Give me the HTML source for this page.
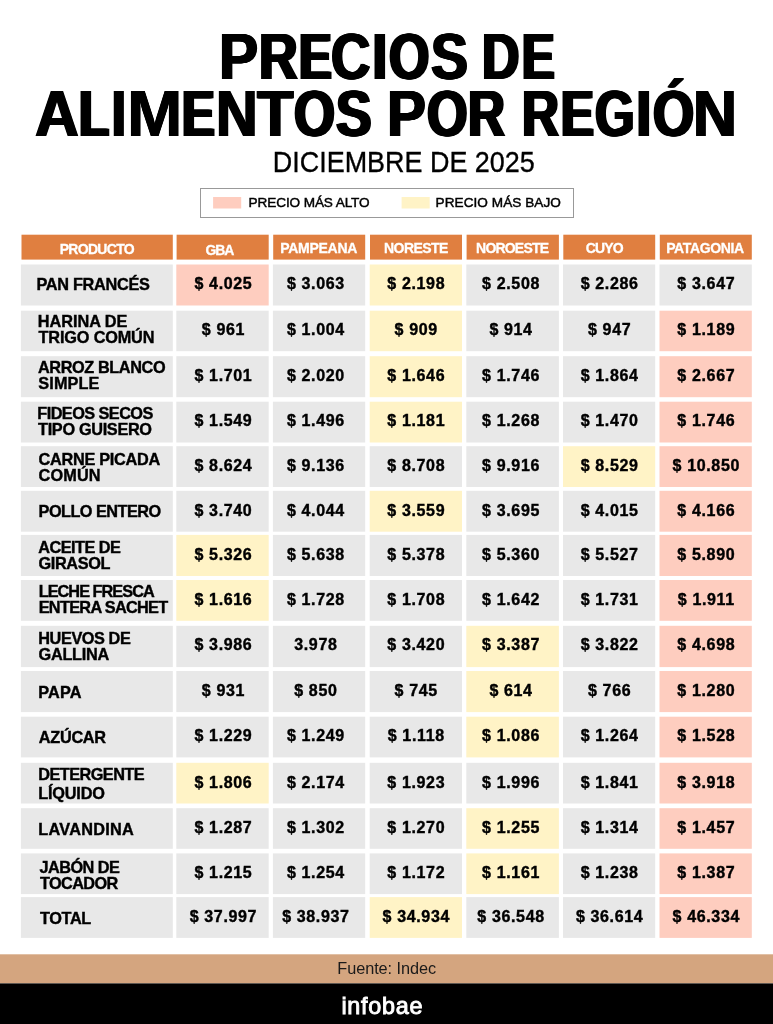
<!DOCTYPE html><html><head><meta charset="utf-8"><title>Precios</title><style>
*{margin:0;padding:0;box-sizing:border-box}
html,body{width:773px;height:1024px;background:#fff;overflow:hidden}
body{position:relative;font-family:"Liberation Sans",sans-serif;color:#000}
#w{position:absolute;left:0;top:0;width:773px;height:1024px;will-change:transform}
.tw{position:absolute;font-weight:bold;font-size:64.5px;line-height:64px;white-space:nowrap;transform-origin:0 50%}
.sub{position:absolute;left:0;width:773px;text-align:center;font-size:29.6px;line-height:30px;white-space:nowrap;transform:translateX(17.3px) scaleX(.91);-webkit-text-stroke:.35px #000}
.f{position:absolute;white-space:nowrap}
.bg{position:absolute;left:0;top:0}
.c{position:absolute;height:16px;line-height:16px;text-align:center;font-weight:bold;font-size:16px;white-space:nowrap;letter-spacing:.65px;-webkit-text-stroke:.4px #000}
</style></head><body><div id="w">
<svg class="bg" width="773" height="1024" viewBox="0 0 773 1024" shape-rendering="geometricPrecision">
<rect x="200.5" y="188.5" width="373" height="29" fill="none" stroke="#999" stroke-width="1"/>
<rect x="213.10" y="197.00" width="28.10" height="11.50" fill="#fecdbf"/>
<rect x="401.60" y="197.00" width="28.10" height="11.50" fill="#fff3c6"/>
<rect x="21.50" y="234.70" width="151.30" height="24.90" fill="#e07f40"/>
<rect x="176.60" y="234.70" width="92.10" height="24.90" fill="#e07f40"/>
<rect x="273.20" y="234.70" width="92.00" height="24.90" fill="#e07f40"/>
<rect x="370.00" y="234.70" width="92.00" height="24.90" fill="#e07f40"/>
<rect x="466.60" y="234.70" width="92.30" height="24.90" fill="#e07f40"/>
<rect x="563.30" y="234.70" width="91.90" height="24.90" fill="#e07f40"/>
<rect x="659.80" y="234.70" width="92.00" height="24.90" fill="#e07f40"/>
<rect x="20.90" y="264.50" width="151.90" height="41.00" fill="#e8e8e8"/>
<rect x="176.30" y="264.50" width="92.40" height="41.00" fill="#fecdbf"/>
<rect x="272.90" y="264.50" width="92.30" height="41.00" fill="#e8e8e8"/>
<rect x="369.70" y="264.50" width="92.30" height="41.00" fill="#fff3c6"/>
<rect x="466.30" y="264.50" width="92.60" height="41.00" fill="#e8e8e8"/>
<rect x="563.00" y="264.50" width="92.20" height="41.00" fill="#e8e8e8"/>
<rect x="659.50" y="264.50" width="92.30" height="41.00" fill="#e8e8e8"/>
<rect x="20.90" y="310.70" width="151.90" height="40.50" fill="#e8e8e8"/>
<rect x="176.30" y="310.70" width="92.40" height="40.50" fill="#e8e8e8"/>
<rect x="272.90" y="310.70" width="92.30" height="40.50" fill="#e8e8e8"/>
<rect x="369.70" y="310.70" width="92.30" height="40.50" fill="#fff3c6"/>
<rect x="466.30" y="310.70" width="92.60" height="40.50" fill="#e8e8e8"/>
<rect x="563.00" y="310.70" width="92.20" height="40.50" fill="#e8e8e8"/>
<rect x="659.50" y="310.70" width="92.30" height="40.50" fill="#fecdbf"/>
<rect x="20.90" y="356.20" width="151.90" height="41.00" fill="#e8e8e8"/>
<rect x="176.30" y="356.20" width="92.40" height="41.00" fill="#e8e8e8"/>
<rect x="272.90" y="356.20" width="92.30" height="41.00" fill="#e8e8e8"/>
<rect x="369.70" y="356.20" width="92.30" height="41.00" fill="#fff3c6"/>
<rect x="466.30" y="356.20" width="92.60" height="41.00" fill="#e8e8e8"/>
<rect x="563.00" y="356.20" width="92.20" height="41.00" fill="#e8e8e8"/>
<rect x="659.50" y="356.20" width="92.30" height="41.00" fill="#fecdbf"/>
<rect x="20.90" y="401.70" width="151.90" height="40.80" fill="#e8e8e8"/>
<rect x="176.30" y="401.70" width="92.40" height="40.80" fill="#e8e8e8"/>
<rect x="272.90" y="401.70" width="92.30" height="40.80" fill="#e8e8e8"/>
<rect x="369.70" y="401.70" width="92.30" height="40.80" fill="#fff3c6"/>
<rect x="466.30" y="401.70" width="92.60" height="40.80" fill="#e8e8e8"/>
<rect x="563.00" y="401.70" width="92.20" height="40.80" fill="#e8e8e8"/>
<rect x="659.50" y="401.70" width="92.30" height="40.80" fill="#fecdbf"/>
<rect x="20.90" y="446.20" width="151.90" height="40.80" fill="#e8e8e8"/>
<rect x="176.30" y="446.20" width="92.40" height="40.80" fill="#e8e8e8"/>
<rect x="272.90" y="446.20" width="92.30" height="40.80" fill="#e8e8e8"/>
<rect x="369.70" y="446.20" width="92.30" height="40.80" fill="#e8e8e8"/>
<rect x="466.30" y="446.20" width="92.60" height="40.80" fill="#e8e8e8"/>
<rect x="563.00" y="446.20" width="92.20" height="40.80" fill="#fff3c6"/>
<rect x="659.50" y="446.20" width="92.30" height="40.80" fill="#fecdbf"/>
<rect x="20.90" y="490.80" width="151.90" height="40.90" fill="#e8e8e8"/>
<rect x="176.30" y="490.80" width="92.40" height="40.90" fill="#e8e8e8"/>
<rect x="272.90" y="490.80" width="92.30" height="40.90" fill="#e8e8e8"/>
<rect x="369.70" y="490.80" width="92.30" height="40.90" fill="#fff3c6"/>
<rect x="466.30" y="490.80" width="92.60" height="40.90" fill="#e8e8e8"/>
<rect x="563.00" y="490.80" width="92.20" height="40.90" fill="#e8e8e8"/>
<rect x="659.50" y="490.80" width="92.30" height="40.90" fill="#fecdbf"/>
<rect x="20.90" y="534.90" width="151.90" height="41.10" fill="#e8e8e8"/>
<rect x="176.30" y="534.90" width="92.40" height="41.10" fill="#fff3c6"/>
<rect x="272.90" y="534.90" width="92.30" height="41.10" fill="#e8e8e8"/>
<rect x="369.70" y="534.90" width="92.30" height="41.10" fill="#e8e8e8"/>
<rect x="466.30" y="534.90" width="92.60" height="41.10" fill="#e8e8e8"/>
<rect x="563.00" y="534.90" width="92.20" height="41.10" fill="#e8e8e8"/>
<rect x="659.50" y="534.90" width="92.30" height="41.10" fill="#fecdbf"/>
<rect x="20.90" y="580.00" width="151.90" height="40.80" fill="#e8e8e8"/>
<rect x="176.30" y="580.00" width="92.40" height="40.80" fill="#fff3c6"/>
<rect x="272.90" y="580.00" width="92.30" height="40.80" fill="#e8e8e8"/>
<rect x="369.70" y="580.00" width="92.30" height="40.80" fill="#e8e8e8"/>
<rect x="466.30" y="580.00" width="92.60" height="40.80" fill="#e8e8e8"/>
<rect x="563.00" y="580.00" width="92.20" height="40.80" fill="#e8e8e8"/>
<rect x="659.50" y="580.00" width="92.30" height="40.80" fill="#fecdbf"/>
<rect x="20.90" y="625.80" width="151.90" height="41.30" fill="#e8e8e8"/>
<rect x="176.30" y="625.80" width="92.40" height="41.30" fill="#e8e8e8"/>
<rect x="272.90" y="625.80" width="92.30" height="41.30" fill="#e8e8e8"/>
<rect x="369.70" y="625.80" width="92.30" height="41.30" fill="#e8e8e8"/>
<rect x="466.30" y="625.80" width="92.60" height="41.30" fill="#fff3c6"/>
<rect x="563.00" y="625.80" width="92.20" height="41.30" fill="#e8e8e8"/>
<rect x="659.50" y="625.80" width="92.30" height="41.30" fill="#fecdbf"/>
<rect x="20.90" y="671.00" width="151.90" height="41.10" fill="#e8e8e8"/>
<rect x="176.30" y="671.00" width="92.40" height="41.10" fill="#e8e8e8"/>
<rect x="272.90" y="671.00" width="92.30" height="41.10" fill="#e8e8e8"/>
<rect x="369.70" y="671.00" width="92.30" height="41.10" fill="#e8e8e8"/>
<rect x="466.30" y="671.00" width="92.60" height="41.10" fill="#fff3c6"/>
<rect x="563.00" y="671.00" width="92.20" height="41.10" fill="#e8e8e8"/>
<rect x="659.50" y="671.00" width="92.30" height="41.10" fill="#fecdbf"/>
<rect x="20.90" y="716.70" width="151.90" height="40.70" fill="#e8e8e8"/>
<rect x="176.30" y="716.70" width="92.40" height="40.70" fill="#e8e8e8"/>
<rect x="272.90" y="716.70" width="92.30" height="40.70" fill="#e8e8e8"/>
<rect x="369.70" y="716.70" width="92.30" height="40.70" fill="#e8e8e8"/>
<rect x="466.30" y="716.70" width="92.60" height="40.70" fill="#fff3c6"/>
<rect x="563.00" y="716.70" width="92.20" height="40.70" fill="#e8e8e8"/>
<rect x="659.50" y="716.70" width="92.30" height="40.70" fill="#fecdbf"/>
<rect x="20.90" y="762.80" width="151.90" height="40.70" fill="#e8e8e8"/>
<rect x="176.30" y="762.80" width="92.40" height="40.70" fill="#fff3c6"/>
<rect x="272.90" y="762.80" width="92.30" height="40.70" fill="#e8e8e8"/>
<rect x="369.70" y="762.80" width="92.30" height="40.70" fill="#e8e8e8"/>
<rect x="466.30" y="762.80" width="92.60" height="40.70" fill="#e8e8e8"/>
<rect x="563.00" y="762.80" width="92.20" height="40.70" fill="#e8e8e8"/>
<rect x="659.50" y="762.80" width="92.30" height="40.70" fill="#fecdbf"/>
<rect x="20.90" y="808.20" width="151.90" height="40.60" fill="#e8e8e8"/>
<rect x="176.30" y="808.20" width="92.40" height="40.60" fill="#e8e8e8"/>
<rect x="272.90" y="808.20" width="92.30" height="40.60" fill="#e8e8e8"/>
<rect x="369.70" y="808.20" width="92.30" height="40.60" fill="#e8e8e8"/>
<rect x="466.30" y="808.20" width="92.60" height="40.60" fill="#fff3c6"/>
<rect x="563.00" y="808.20" width="92.20" height="40.60" fill="#e8e8e8"/>
<rect x="659.50" y="808.20" width="92.30" height="40.60" fill="#fecdbf"/>
<rect x="20.90" y="853.40" width="151.90" height="40.70" fill="#e8e8e8"/>
<rect x="176.30" y="853.40" width="92.40" height="40.70" fill="#e8e8e8"/>
<rect x="272.90" y="853.40" width="92.30" height="40.70" fill="#e8e8e8"/>
<rect x="369.70" y="853.40" width="92.30" height="40.70" fill="#e8e8e8"/>
<rect x="466.30" y="853.40" width="92.60" height="40.70" fill="#fff3c6"/>
<rect x="563.00" y="853.40" width="92.20" height="40.70" fill="#e8e8e8"/>
<rect x="659.50" y="853.40" width="92.30" height="40.70" fill="#fecdbf"/>
<rect x="20.90" y="897.10" width="151.90" height="40.80" fill="#e8e8e8"/>
<rect x="176.30" y="897.10" width="92.40" height="40.80" fill="#e8e8e8"/>
<rect x="272.90" y="897.10" width="92.30" height="40.80" fill="#e8e8e8"/>
<rect x="369.70" y="897.10" width="92.30" height="40.80" fill="#fff3c6"/>
<rect x="466.30" y="897.10" width="92.60" height="40.80" fill="#e8e8e8"/>
<rect x="563.00" y="897.10" width="92.20" height="40.80" fill="#e8e8e8"/>
<rect x="659.50" y="897.10" width="92.30" height="40.80" fill="#fecdbf"/>
<rect x="0.00" y="954.30" width="773.00" height="29.10" fill="#d4a57f"/>
<rect x="0.00" y="983.40" width="773.00" height="40.60" fill="#000"/>
</svg>
<div class="tw" style="left:218.87px;top:25.1px;transform:scaleX(0.9101);text-shadow:1.15px 0 0 #000,-1.15px 0 0 #000,0.57px 0 0 #000,-0.57px 0 0 #000;">P</div>
<div class="tw" style="left:258.77px;top:25.1px;transform:scaleX(0.8315);text-shadow:1.69px 0 0 #000,-1.69px 0 0 #000,0.84px 0 0 #000,-0.84px 0 0 #000;">R</div>
<div class="tw" style="left:298.91px;top:25.1px;transform:scaleX(0.7593);text-shadow:2.29px 0 0 #000,-2.29px 0 0 #000,1.15px 0 0 #000,-1.15px 0 0 #000;">E</div>
<div class="tw" style="left:331.31px;top:25.1px;transform:scaleX(0.8458);text-shadow:1.58px 0 0 #000,-1.58px 0 0 #000,0.79px 0 0 #000,-0.79px 0 0 #000;">C</div>
<div class="tw" style="left:371.63px;top:25.1px;transform:scaleX(0.8700);text-shadow:1.52px 0 0 #000,-1.52px 0 0 #000,0.76px 0 0 #000,-0.76px 0 0 #000;">I</div>
<div class="tw" style="left:388.61px;top:25.1px;transform:scaleX(0.8056);text-shadow:1.89px 0 0 #000,-1.89px 0 0 #000,0.94px 0 0 #000,-0.94px 0 0 #000;">O</div>
<div class="tw" style="left:430.56px;top:25.1px;transform:scaleX(0.8581);text-shadow:1.50px 0 0 #000,-1.50px 0 0 #000,0.75px 0 0 #000,-0.75px 0 0 #000;">S</div>
<div class="tw" style="left:482.42px;top:25.1px;transform:scaleX(0.8033);text-shadow:1.91px 0 0 #000,-1.91px 0 0 #000,0.95px 0 0 #000,-0.95px 0 0 #000;">D</div>
<div class="tw" style="left:521.74px;top:25.1px;transform:scaleX(0.7556);text-shadow:2.33px 0 0 #000,-2.33px 0 0 #000,1.16px 0 0 #000,-1.16px 0 0 #000;">E</div>
<div class="tw" style="left:35.04px;top:82.2px;transform:scaleX(0.9422);text-shadow:0.94px 0 0 #000,-0.94px 0 0 #000,0.47px 0 0 #000,-0.47px 0 0 #000;">A</div>
<div class="tw" style="left:79.48px;top:82.2px;transform:scaleX(0.7625);text-shadow:2.26px 0 0 #000,-2.26px 0 0 #000,1.13px 0 0 #000,-1.13px 0 0 #000;">L</div>
<div class="tw" style="left:111.48px;top:82.2px;transform:scaleX(0.8700);text-shadow:1.24px 0 0 #000,-1.24px 0 0 #000,0.62px 0 0 #000,-0.62px 0 0 #000;">I</div>
<div class="tw" style="left:126.60px;top:82.2px;transform:scaleX(1.0306);text-shadow:0.47px 0 0 #000,-0.47px 0 0 #000,0.23px 0 0 #000,-0.23px 0 0 #000;">M</div>
<div class="tw" style="left:181.81px;top:82.2px;transform:scaleX(0.7593);text-shadow:2.29px 0 0 #000,-2.29px 0 0 #000,1.15px 0 0 #000,-1.15px 0 0 #000;">E</div>
<div class="tw" style="left:215.52px;top:82.2px;transform:scaleX(0.8939);text-shadow:1.25px 0 0 #000,-1.25px 0 0 #000,0.62px 0 0 #000,-0.62px 0 0 #000;">N</div>
<div class="tw" style="left:256.76px;top:82.2px;transform:scaleX(0.9287);text-shadow:1.03px 0 0 #000,-1.03px 0 0 #000,0.52px 0 0 #000,-0.52px 0 0 #000;">T</div>
<div class="tw" style="left:293.83px;top:82.2px;transform:scaleX(0.8169);text-shadow:1.80px 0 0 #000,-1.80px 0 0 #000,0.90px 0 0 #000,-0.90px 0 0 #000;">O</div>
<div class="tw" style="left:336.47px;top:82.2px;transform:scaleX(0.8274);text-shadow:1.72px 0 0 #000,-1.72px 0 0 #000,0.86px 0 0 #000,-0.86px 0 0 #000;">S</div>
<div class="tw" style="left:386.71px;top:82.2px;transform:scaleX(0.9064);text-shadow:1.17px 0 0 #000,-1.17px 0 0 #000,0.58px 0 0 #000,-0.58px 0 0 #000;">P</div>
<div class="tw" style="left:426.59px;top:82.2px;transform:scaleX(0.8085);text-shadow:1.87px 0 0 #000,-1.87px 0 0 #000,0.94px 0 0 #000,-0.94px 0 0 #000;">O</div>
<div class="tw" style="left:468.21px;top:82.2px;transform:scaleX(0.7937);text-shadow:1.99px 0 0 #000,-1.99px 0 0 #000,0.99px 0 0 #000,-0.99px 0 0 #000;">R</div>
<div class="tw" style="left:522.21px;top:82.2px;transform:scaleX(0.7937);text-shadow:1.99px 0 0 #000,-1.99px 0 0 #000,0.99px 0 0 #000,-0.99px 0 0 #000;">R</div>
<div class="tw" style="left:561.38px;top:82.2px;transform:scaleX(0.7630);text-shadow:2.25px 0 0 #000,-2.25px 0 0 #000,1.13px 0 0 #000,-1.13px 0 0 #000;">E</div>
<div class="tw" style="left:595.34px;top:82.2px;transform:scaleX(0.7883);text-shadow:2.04px 0 0 #000,-2.04px 0 0 #000,1.02px 0 0 #000,-1.02px 0 0 #000;">G</div>
<div class="tw" style="left:635.88px;top:82.2px;transform:scaleX(0.8700);text-shadow:1.35px 0 0 #000,-1.35px 0 0 #000,0.68px 0 0 #000,-0.68px 0 0 #000;">I</div>
<div class="tw" style="left:652.60px;top:82.2px;transform:scaleX(0.8197);text-shadow:1.78px 0 0 #000,-1.78px 0 0 #000,0.89px 0 0 #000,-0.89px 0 0 #000;">Ó</div>
<div class="tw" style="left:693.38px;top:82.2px;transform:scaleX(0.9426);text-shadow:0.94px 0 0 #000,-0.94px 0 0 #000,0.47px 0 0 #000,-0.47px 0 0 #000;">N</div>
<div class="sub" style="top:146.6px">DICIEMBRE DE 2025</div>
<div class="f" style="left:248.60px;top:196.20px;font-size:13.6px;line-height:13.6px;letter-spacing:-0.114px;-webkit-text-stroke:.45px #000;">PRECIO MÁS ALTO</div>
<div class="f" style="left:435.60px;top:196.20px;font-size:13.6px;line-height:13.6px;letter-spacing:0.044px;-webkit-text-stroke:.45px #000;">PRECIO MÁS BAJO</div>
<div class="f" style="left:59.70px;top:242.20px;font-size:14.0px;line-height:14.0px;font-weight:bold;letter-spacing:-0.693px;color:#fff;-webkit-text-stroke:.3px #fff;">PRODUCTO</div>
<div class="f" style="left:205.50px;top:242.50px;font-size:14.0px;line-height:14.0px;font-weight:bold;letter-spacing:-1.075px;color:#fff;-webkit-text-stroke:.3px #fff;">GBA</div>
<div class="f" style="left:280.30px;top:240.60px;font-size:14.0px;line-height:14.0px;font-weight:bold;letter-spacing:-0.293px;color:#fff;-webkit-text-stroke:.3px #fff;">PAMPEANA</div>
<div class="f" style="left:384.08px;top:240.70px;font-size:14.0px;line-height:14.0px;font-weight:bold;letter-spacing:-0.583px;color:#fff;-webkit-text-stroke:.3px #fff;">NORESTE</div>
<div class="f" style="left:476.08px;top:240.60px;font-size:14.0px;line-height:14.0px;font-weight:bold;letter-spacing:-0.803px;color:#fff;-webkit-text-stroke:.3px #fff;">NOROESTE</div>
<div class="f" style="left:585.80px;top:240.80px;font-size:14.0px;line-height:14.0px;font-weight:bold;letter-spacing:-0.883px;color:#fff;-webkit-text-stroke:.3px #fff;">CUYO</div>
<div class="f" style="left:666.20px;top:240.70px;font-size:14.0px;line-height:14.0px;font-weight:bold;letter-spacing:-0.363px;color:#fff;-webkit-text-stroke:.3px #fff;">PATAGONIA</div>
<div class="f" style="left:36.50px;top:275.80px;font-size:16.3px;line-height:16.3px;font-weight:bold;letter-spacing:-0.305px;-webkit-text-stroke:.4px #000;">PAN FRANCÉS</div>
<div class="c" style="padding-left:1.85px;left:176.3px;top:276px;width:92.4px">$ 4.025</div>
<div class="c" style="padding-right:6.35px;left:272.9px;top:276px;width:92.3px">$ 3.063</div>
<div class="c" style="padding-left:0.85px;left:369.7px;top:276px;width:92.3px">$ 2.198</div>
<div class="c" style="padding-right:3.15px;left:466.3px;top:276px;width:92.6px">$ 2.508</div>
<div class="c" style="padding-left:1.05px;left:563px;top:276px;width:92.2px">$ 2.286</div>
<div class="c" style="padding-left:1.25px;left:659.5px;top:276px;width:92.3px">$ 3.647</div>
<div class="f" style="left:37.80px;top:313.20px;font-size:16.3px;line-height:16.3px;font-weight:bold;letter-spacing:-0.031px;-webkit-text-stroke:.4px #000;">HARINA DE</div>
<div class="f" style="left:38.55px;top:329.00px;font-size:16.3px;line-height:16.3px;font-weight:bold;letter-spacing:-0.165px;-webkit-text-stroke:.4px #000;">TRIGO COMÚN</div>
<div class="c" style="padding-left:1.85px;left:176.3px;top:322px;width:92.4px">$ 961</div>
<div class="c" style="padding-right:6.35px;left:272.9px;top:322px;width:92.3px">$ 1.004</div>
<div class="c" style="padding-left:0.85px;left:369.7px;top:322px;width:92.3px">$ 909</div>
<div class="c" style="padding-right:3.15px;left:466.3px;top:322px;width:92.6px">$ 914</div>
<div class="c" style="padding-left:1.05px;left:563px;top:322px;width:92.2px">$ 947</div>
<div class="c" style="padding-left:1.25px;left:659.5px;top:322px;width:92.3px">$ 1.189</div>
<div class="f" style="left:38.00px;top:358.70px;font-size:16.3px;line-height:16.3px;font-weight:bold;letter-spacing:-0.405px;-webkit-text-stroke:.4px #000;">ARROZ BLANCO</div>
<div class="f" style="left:38.30px;top:374.80px;font-size:16.3px;line-height:16.3px;font-weight:bold;letter-spacing:0.100px;-webkit-text-stroke:.4px #000;">SIMPLE</div>
<div class="c" style="padding-left:1.85px;left:176.3px;top:368px;width:92.4px">$ 1.701</div>
<div class="c" style="padding-right:6.35px;left:272.9px;top:368px;width:92.3px">$ 2.020</div>
<div class="c" style="padding-left:0.85px;left:369.7px;top:368px;width:92.3px">$ 1.646</div>
<div class="c" style="padding-right:3.15px;left:466.3px;top:368px;width:92.6px">$ 1.746</div>
<div class="c" style="padding-left:1.05px;left:563px;top:368px;width:92.2px">$ 1.864</div>
<div class="c" style="padding-left:1.25px;left:659.5px;top:368px;width:92.3px">$ 2.667</div>
<div class="f" style="left:37.30px;top:404.80px;font-size:16.3px;line-height:16.3px;font-weight:bold;letter-spacing:-0.555px;-webkit-text-stroke:.4px #000;">FIDEOS SECOS</div>
<div class="f" style="left:38.05px;top:420.80px;font-size:16.3px;line-height:16.3px;font-weight:bold;letter-spacing:-0.332px;-webkit-text-stroke:.4px #000;">TIPO GUISERO</div>
<div class="c" style="padding-left:1.85px;left:176.3px;top:413px;width:92.4px">$ 1.549</div>
<div class="c" style="padding-right:6.35px;left:272.9px;top:413px;width:92.3px">$ 1.496</div>
<div class="c" style="padding-left:0.85px;left:369.7px;top:413px;width:92.3px">$ 1.181</div>
<div class="c" style="padding-right:3.15px;left:466.3px;top:413px;width:92.6px">$ 1.268</div>
<div class="c" style="padding-left:1.05px;left:563px;top:413px;width:92.2px">$ 1.470</div>
<div class="c" style="padding-left:1.25px;left:659.5px;top:413px;width:92.3px">$ 1.746</div>
<div class="f" style="left:38.55px;top:451.10px;font-size:16.3px;line-height:16.3px;font-weight:bold;letter-spacing:-0.291px;-webkit-text-stroke:.4px #000;">CARNE PICADA</div>
<div class="f" style="left:38.55px;top:466.90px;font-size:16.3px;line-height:16.3px;font-weight:bold;letter-spacing:0.137px;-webkit-text-stroke:.4px #000;">COMÚN</div>
<div class="c" style="padding-left:1.85px;left:176.3px;top:458px;width:92.4px">$ 8.624</div>
<div class="c" style="padding-right:6.35px;left:272.9px;top:458px;width:92.3px">$ 9.136</div>
<div class="c" style="padding-left:0.85px;left:369.7px;top:458px;width:92.3px">$ 8.708</div>
<div class="c" style="padding-right:3.15px;left:466.3px;top:458px;width:92.6px">$ 9.916</div>
<div class="c" style="padding-left:1.05px;left:563px;top:458px;width:92.2px">$ 8.529</div>
<div class="c" style="padding-left:1.25px;left:659.5px;top:458px;width:92.3px">$ 10.850</div>
<div class="f" style="left:38.60px;top:502.80px;font-size:16.3px;line-height:16.3px;font-weight:bold;letter-spacing:-0.541px;-webkit-text-stroke:.4px #000;">POLLO ENTERO</div>
<div class="c" style="padding-left:1.85px;left:176.3px;top:503px;width:92.4px">$ 3.740</div>
<div class="c" style="padding-right:6.35px;left:272.9px;top:503px;width:92.3px">$ 4.044</div>
<div class="c" style="padding-left:0.85px;left:369.7px;top:503px;width:92.3px">$ 3.559</div>
<div class="c" style="padding-right:3.15px;left:466.3px;top:503px;width:92.6px">$ 3.695</div>
<div class="c" style="padding-left:1.05px;left:563px;top:503px;width:92.2px">$ 4.015</div>
<div class="c" style="padding-left:1.25px;left:659.5px;top:503px;width:92.3px">$ 4.166</div>
<div class="f" style="left:38.24px;top:538.50px;font-size:16.3px;line-height:16.3px;font-weight:bold;letter-spacing:-0.531px;-webkit-text-stroke:.4px #000;">ACEITE DE</div>
<div class="f" style="left:38.55px;top:554.60px;font-size:16.3px;line-height:16.3px;font-weight:bold;letter-spacing:-0.383px;-webkit-text-stroke:.4px #000;">GIRASOL</div>
<div class="c" style="padding-left:1.85px;left:176.3px;top:547px;width:92.4px">$ 5.326</div>
<div class="c" style="padding-right:6.35px;left:272.9px;top:547px;width:92.3px">$ 5.638</div>
<div class="c" style="padding-left:0.85px;left:369.7px;top:547px;width:92.3px">$ 5.378</div>
<div class="c" style="padding-right:3.15px;left:466.3px;top:547px;width:92.6px">$ 5.360</div>
<div class="c" style="padding-left:1.05px;left:563px;top:547px;width:92.2px">$ 5.527</div>
<div class="c" style="padding-left:1.25px;left:659.5px;top:547px;width:92.3px">$ 5.890</div>
<div class="f" style="left:38.70px;top:582.90px;font-size:16.3px;line-height:16.3px;font-weight:bold;letter-spacing:-0.967px;-webkit-text-stroke:.4px #000;">LECHE FRESCA</div>
<div class="f" style="left:38.70px;top:598.50px;font-size:16.3px;line-height:16.3px;font-weight:bold;letter-spacing:-0.688px;-webkit-text-stroke:.4px #000;">ENTERA SACHET</div>
<div class="c" style="padding-left:1.85px;left:176.3px;top:592px;width:92.4px">$ 1.616</div>
<div class="c" style="padding-right:6.35px;left:272.9px;top:592px;width:92.3px">$ 1.728</div>
<div class="c" style="padding-left:0.85px;left:369.7px;top:592px;width:92.3px">$ 1.708</div>
<div class="c" style="padding-right:3.15px;left:466.3px;top:592px;width:92.6px">$ 1.642</div>
<div class="c" style="padding-left:1.05px;left:563px;top:592px;width:92.2px">$ 1.731</div>
<div class="c" style="padding-left:1.25px;left:659.5px;top:592px;width:92.3px">$ 1.911</div>
<div class="f" style="left:38.30px;top:629.80px;font-size:16.3px;line-height:16.3px;font-weight:bold;letter-spacing:-0.431px;-webkit-text-stroke:.4px #000;">HUEVOS DE</div>
<div class="f" style="left:38.55px;top:645.60px;font-size:16.3px;line-height:16.3px;font-weight:bold;letter-spacing:-0.267px;-webkit-text-stroke:.4px #000;">GALLINA</div>
<div class="c" style="padding-left:1.85px;left:176.3px;top:637px;width:92.4px">$ 3.986</div>
<div class="c" style="padding-right:6.35px;left:272.9px;top:637px;width:92.3px">3.978</div>
<div class="c" style="padding-left:0.85px;left:369.7px;top:637px;width:92.3px">$ 3.420</div>
<div class="c" style="padding-right:3.15px;left:466.3px;top:637px;width:92.6px">$ 3.387</div>
<div class="c" style="padding-left:1.05px;left:563px;top:637px;width:92.2px">$ 3.822</div>
<div class="c" style="padding-left:1.25px;left:659.5px;top:637px;width:92.3px">$ 4.698</div>
<div class="f" style="left:38.30px;top:683.60px;font-size:16.3px;line-height:16.3px;font-weight:bold;letter-spacing:0.150px;-webkit-text-stroke:.4px #000;">PAPA</div>
<div class="c" style="padding-left:1.85px;left:176.3px;top:683px;width:92.4px">$ 931</div>
<div class="c" style="padding-right:6.35px;left:272.9px;top:683px;width:92.3px">$ 850</div>
<div class="c" style="padding-left:0.85px;left:369.7px;top:683px;width:92.3px">$ 745</div>
<div class="c" style="padding-right:3.15px;left:466.3px;top:683px;width:92.6px">$ 614</div>
<div class="c" style="padding-left:1.05px;left:563px;top:683px;width:92.2px">$ 766</div>
<div class="c" style="padding-left:1.25px;left:659.5px;top:683px;width:92.3px">$ 1.280</div>
<div class="f" style="left:38.80px;top:729.20px;font-size:16.3px;line-height:16.3px;font-weight:bold;letter-spacing:-0.290px;-webkit-text-stroke:.4px #000;">AZÚCAR</div>
<div class="c" style="padding-left:1.85px;left:176.3px;top:728px;width:92.4px">$ 1.229</div>
<div class="c" style="padding-right:6.35px;left:272.9px;top:728px;width:92.3px">$ 1.249</div>
<div class="c" style="padding-left:0.85px;left:369.7px;top:728px;width:92.3px">$ 1.118</div>
<div class="c" style="padding-right:3.15px;left:466.3px;top:728px;width:92.6px">$ 1.086</div>
<div class="c" style="padding-left:1.05px;left:563px;top:728px;width:92.2px">$ 1.264</div>
<div class="c" style="padding-left:1.25px;left:659.5px;top:728px;width:92.3px">$ 1.528</div>
<div class="f" style="left:38.30px;top:766.40px;font-size:16.3px;line-height:16.3px;font-weight:bold;letter-spacing:-0.550px;-webkit-text-stroke:.4px #000;">DETERGENTE</div>
<div class="f" style="left:38.30px;top:785.00px;font-size:16.3px;line-height:16.3px;font-weight:bold;letter-spacing:-0.208px;-webkit-text-stroke:.4px #000;">LÍQUIDO</div>
<div class="c" style="padding-left:1.85px;left:176.3px;top:775px;width:92.4px">$ 1.806</div>
<div class="c" style="padding-right:6.35px;left:272.9px;top:775px;width:92.3px">$ 2.174</div>
<div class="c" style="padding-left:0.85px;left:369.7px;top:775px;width:92.3px">$ 1.923</div>
<div class="c" style="padding-right:3.15px;left:466.3px;top:775px;width:92.6px">$ 1.996</div>
<div class="c" style="padding-left:1.05px;left:563px;top:775px;width:92.2px">$ 1.841</div>
<div class="c" style="padding-left:1.25px;left:659.5px;top:775px;width:92.3px">$ 3.918</div>
<div class="f" style="left:38.30px;top:820.80px;font-size:16.3px;line-height:16.3px;font-weight:bold;letter-spacing:0.237px;-webkit-text-stroke:.4px #000;">LAVANDINA</div>
<div class="c" style="padding-left:1.85px;left:176.3px;top:820px;width:92.4px">$ 1.287</div>
<div class="c" style="padding-right:6.35px;left:272.9px;top:820px;width:92.3px">$ 1.302</div>
<div class="c" style="padding-left:0.85px;left:369.7px;top:820px;width:92.3px">$ 1.270</div>
<div class="c" style="padding-right:3.15px;left:466.3px;top:820px;width:92.6px">$ 1.255</div>
<div class="c" style="padding-left:1.05px;left:563px;top:820px;width:92.2px">$ 1.314</div>
<div class="c" style="padding-left:1.25px;left:659.5px;top:820px;width:92.3px">$ 1.457</div>
<div class="f" style="left:39.45px;top:858.50px;font-size:16.3px;line-height:16.3px;font-weight:bold;letter-spacing:-0.521px;-webkit-text-stroke:.4px #000;">JABÓN DE</div>
<div class="f" style="left:40.05px;top:874.50px;font-size:16.3px;line-height:16.3px;font-weight:bold;letter-spacing:-0.642px;-webkit-text-stroke:.4px #000;">TOCADOR</div>
<div class="c" style="padding-left:1.85px;left:176.3px;top:865px;width:92.4px">$ 1.215</div>
<div class="c" style="padding-right:6.35px;left:272.9px;top:865px;width:92.3px">$ 1.254</div>
<div class="c" style="padding-left:0.85px;left:369.7px;top:865px;width:92.3px">$ 1.172</div>
<div class="c" style="padding-right:3.15px;left:466.3px;top:865px;width:92.6px">$ 1.161</div>
<div class="c" style="padding-left:1.05px;left:563px;top:865px;width:92.2px">$ 1.238</div>
<div class="c" style="padding-left:1.25px;left:659.5px;top:865px;width:92.3px">$ 1.387</div>
<div class="f" style="left:40.05px;top:909.70px;font-size:16.3px;line-height:16.3px;font-weight:bold;letter-spacing:-0.375px;-webkit-text-stroke:.4px #000;">TOTAL</div>
<div class="c" style="padding-left:1.85px;left:176.3px;top:909px;width:92.4px">$ 37.997</div>
<div class="c" style="padding-right:6.35px;left:272.9px;top:909px;width:92.3px">$ 38.937</div>
<div class="c" style="padding-left:0.85px;left:369.7px;top:909px;width:92.3px">$ 34.934</div>
<div class="c" style="padding-right:3.15px;left:466.3px;top:909px;width:92.6px">$ 36.548</div>
<div class="c" style="padding-left:1.05px;left:563px;top:909px;width:92.2px">$ 36.614</div>
<div class="c" style="padding-left:1.25px;left:659.5px;top:909px;width:92.3px">$ 46.334</div>
<div class="f" style="left:337.25px;top:960.10px;font-size:16.3px;line-height:16.3px;letter-spacing:-0.054px;color:#1a1a1a;">Fuente: Indec</div>
<div class="f" style="left:341.40px;top:995.10px;font-size:23.4px;line-height:23.4px;letter-spacing:0.742px;color:#fff;-webkit-text-stroke:0.9px #fff;">infobae</div>
</div></body></html>
